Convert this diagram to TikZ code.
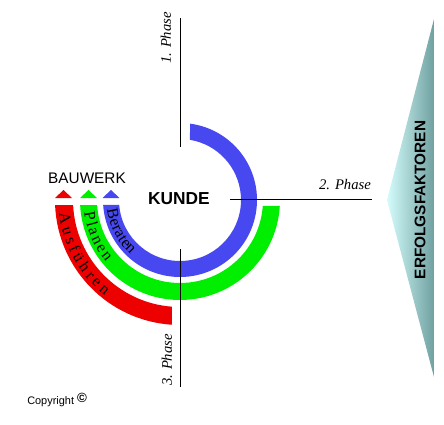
\documentclass[tikz,border=0pt]{standalone}
\usepackage{fontspec}
\setmainfont{Liberation Serif}
\setsansfont{Liberation Sans}

\definecolor{bluearc}{RGB}{72,72,240}
\definecolor{greenarc}{RGB}{0,238,0}
\definecolor{redarc}{RGB}{236,0,0}
\definecolor{efcyan}{RGB}{212,252,252}
\definecolor{efteal}{RGB}{112,160,160}

\newcommand\arcfont{\fontsize{12}{14}\selectfont}
% letters set one by one along an arc round C: name, radius, start angle, gap, letter/width
\newcommand\arcword[5]{%
  \xdef\arcang{#3}%
  \foreach \ch/\w [count=\i] in {#5} {%
    \pgfmathsetmacro\archalf{(\w*16+#4)/2/#2*180/pi}%
    \pgfmathsetmacro\arcmid{\arcang+\archalf}%
    \node[arcletter, rotate=\arcmid+90] (#1\i) at ([shift={(\arcmid:#2)}]C) {\ch};%
    \pgfmathsetmacro\arcnxt{\arcmid+\archalf}%
    \xdef\arcang{\arcnxt}%
  }%
}

\begin{document}
\begin{tikzpicture}[
    x=0.75pt, y=0.75pt,
    phase/.style={font=\itshape\fontsize{11}{13}\selectfont, inner sep=0pt},
    phaseline/.style={draw=black, line width=0.7pt},
    label/.style={font=\sffamily\fontsize{11.5}{14}\selectfont, inner sep=0pt},
    arcletter/.style={font=\arcfont, inner sep=0pt, anchor=base}
]
\useasboundingbox (0,0) rectangle (444,-425);
\coordinate (C) at (180,-200);

% arcs
\fill[bluearc] ([shift={(82.5:77)}]C) arc[start angle=82.5, end angle=-176.3, radius=77]
    -- ([shift={(-175.3:61)}]C) arc[start angle=-175.3, end angle=80.6, radius=61] -- cycle;
\fill[greenarc] ([shift={(-3.4:100)}]C) arc[start angle=-3.4, end angle=-177.1, radius=100]
    -- ([shift={(-176.5:83)}]C) arc[start angle=-176.5, end angle=-4.1, radius=83] -- cycle;
\fill[redarc] ([shift={(-177.7:125)}]C) arc[start angle=-177.7, end angle=-93.7, radius=125]
    -- ([shift={(-94.3:107)}]C) arc[start angle=-94.3, end angle=-177.3, radius=107] -- cycle;

\arcword{ber}{73.5}{-172.5}{0.3}{B/.667,e/.444,r/.333,a/.444,t/.278,e/.444,n/.5}
\arcword{pla}{96.5}{-173.5}{2.3}{P/.556,l/.278,a/.444,n/.5,e/.444,n/.5}
\arcword{aus}{121.5}{-174.5}{3.6}{A/.722,u/.5,s/.389,f/.333,ü/.5,h/.5,r/.333,e/.444,n/.5}

\foreach \c/\x in {redarc/63.5, greenarc/88.5, bluearc/111}
    \fill[\c] (\x-8.5,-198) -- (\x,-190) -- (\x+8.5,-198) -- cycle;

% phases
\coordinate (ph1a) at (180,-18);
\coordinate (ph1b) at (180,-147);
\coordinate (ph2a) at (230,-199);
\coordinate (ph2b) at (372,-199);
\coordinate (ph3a) at (180,-249);
\coordinate (ph3b) at (180,-387);
\draw[phaseline] (ph1a) -- (ph1b);
\draw[phaseline] (ph2a) -- (ph2b);
\draw[phaseline] (ph3a) -- (ph3b);
\node[phase, rotate=90] (ph1) at (166,-38) {1. Phase};
\node[phase] (ph2) at (345,-185) {2. Phase};
\node[phase, rotate=90] (ph3) at (167,-360) {3. Phase};

\node[label, font=\sffamily\bfseries\fontsize{13}{16}\selectfont] (kunde) at (179,-199) {KUNDE};
\node[label] (bauwerk) at (87,-178) {BAUWERK};
\node[label, anchor=west, font=\sffamily\fontsize{8.2}{10}\selectfont] (copy) at (27,-400)
    {Copyright \raisebox{1pt}{\bfseries\fontsize{10}{10}\selectfont ©}};

% erfolgsfaktoren
\coordinate (eftop) at (434,-19);
\coordinate (efleft) at (387,-200);
\coordinate (efbot) at (434,-377);
\shade[left color=efcyan, right color=efteal] (eftop) -- (efleft) -- (efbot) -- cycle;
\node[label, rotate=90, font=\sffamily\bfseries\fontsize{11.5}{14}\selectfont] (efk) at (420,-200) {ERFOLGSFAKTOREN};
\end{tikzpicture}
\end{document}
